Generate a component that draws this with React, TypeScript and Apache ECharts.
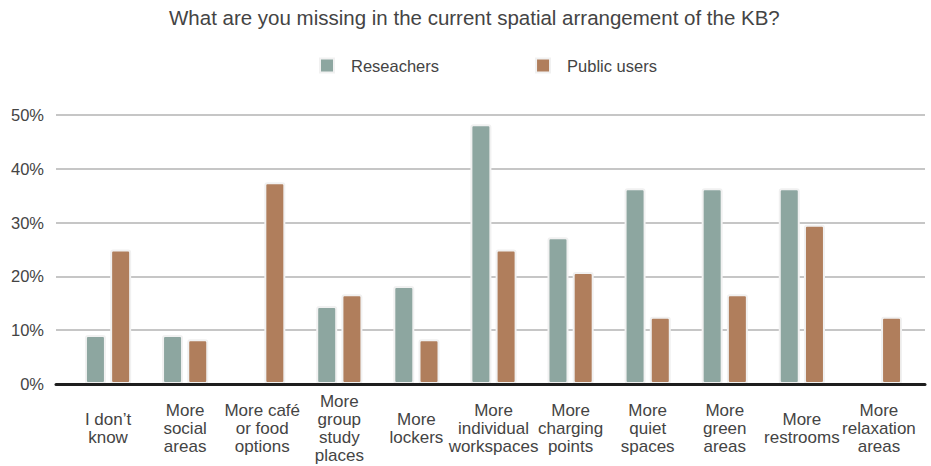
import React, { useEffect, useRef } from "react";
import * as echarts from "echarts";

const categories = [
  "I don’t\nknow",
  "More\nsocial\nareas",
  "More café\nor food\noptions",
  "More\ngroup\nstudy\nplaces",
  "More\nlockers",
  "More\nindividual\nworkspaces",
  "More\ncharging\npoints",
  "More\nquiet\nspaces",
  "More\ngreen\nareas",
  "More\nrestrooms",
  "More\nrelaxation\nareas",
];
const researchers = [9.1, 9.1, 0, 14.5, 18.2, 48.3, 27.3, 36.4, 36.4, 36.4, 0];
const publicUsers = [25, 8.3, 37.5, 16.7, 8.3, 25, 20.8, 12.5, 16.7, 29.6, 12.5];
const seriesNames = ["Reseachers", "Public users"];
const yTicks = { min: 0, max: 50, interval: 10 };

const FONT = "'Liberation Sans', Arial, sans-serif";
const TEXT = "#444444";

export default function App() {
  const ref = useRef<HTMLDivElement>(null);
  useEffect(() => {
    if (!ref.current) return;
    const chart = echarts.init(ref.current, undefined, { renderer: "svg" });
    chart.setOption({
      animation: false,
      backgroundColor: "#ffffff",
      textStyle: { fontFamily: FONT },
      title: {
        text: "What are you missing in the current spatial arrangement of the KB?",
        left: 164,
        top: 2,
        textStyle: { fontSize: 20.5, fontWeight: "normal", color: TEXT, fontFamily: FONT },
      },
      legend: {
        top: 52,
        left: 314,
        itemWidth: 14,
        itemHeight: 14,
        itemGap: 96,
        icon: "rect",
        data: seriesNames,
        textStyle: { fontSize: 16.5, color: TEXT, fontFamily: FONT, padding: [0, 0, 0, 12] },
      },
      grid: [
        { left: 56, right: 6, top: 115, bottom: 82 },
        { left: 69.5, right: 13.5, top: 115, bottom: 82 },
      ],
      xAxis: [
        {
          gridIndex: 0,
          type: "value",
          min: 0,
          max: 1,
          z: 5,
          axisLine: { show: true, lineStyle: { color: "#1e1e1e", width: 3 } },
          axisTick: { show: false },
          axisLabel: { show: false },
          splitLine: { show: false },
        },
        {
          gridIndex: 1,
          type: "category",
          data: categories,
          axisLine: { show: false },
          axisTick: { show: false },
          axisLabel: {
            interval: 0,
            margin: 44,
            verticalAlign: "middle",
            fontSize: 17,
            lineHeight: 18,
            color: TEXT,
            fontFamily: FONT,
          },
        },
      ],
      yAxis: [
        {
          gridIndex: 0,
          type: "value",
          min: yTicks.min,
          max: yTicks.max,
          interval: yTicks.interval,
          axisLine: { show: false },
          axisTick: { show: false },
          axisLabel: { formatter: "{value}%", fontSize: 16.5, color: TEXT, margin: 12, fontFamily: FONT },
          splitLine: { lineStyle: { color: "#c6c6c6", width: 2 } },
        },
        {
          gridIndex: 1,
          type: "value",
          min: yTicks.min,
          max: yTicks.max,
          interval: yTicks.interval,
          show: false,
          splitLine: { show: false },
        },
      ],
      series: [
        {
          name: seriesNames[0],
          type: "bar",
          xAxisIndex: 1,
          yAxisIndex: 1,
          data: researchers,
          barWidth: 21,
          barGap: "20%",
          itemStyle: { color: "#8da6a0", borderColor: "#f1f1f1", borderWidth: 2, borderRadius: 2 },
        },
        {
          name: seriesNames[1],
          type: "bar",
          xAxisIndex: 1,
          yAxisIndex: 1,
          data: publicUsers,
          barWidth: 21,
          barGap: "20%",
          itemStyle: { color: "#b07e5c", borderColor: "#f1f1f1", borderWidth: 2, borderRadius: 2 },
        },
      ],
    });
    return () => chart.dispose();
  }, []);
  return (
    <div
      ref={ref}
      style={{ position: "fixed", left: 0, top: 0, width: 931, height: 466, background: "#fff" }}
    />
  );
}
